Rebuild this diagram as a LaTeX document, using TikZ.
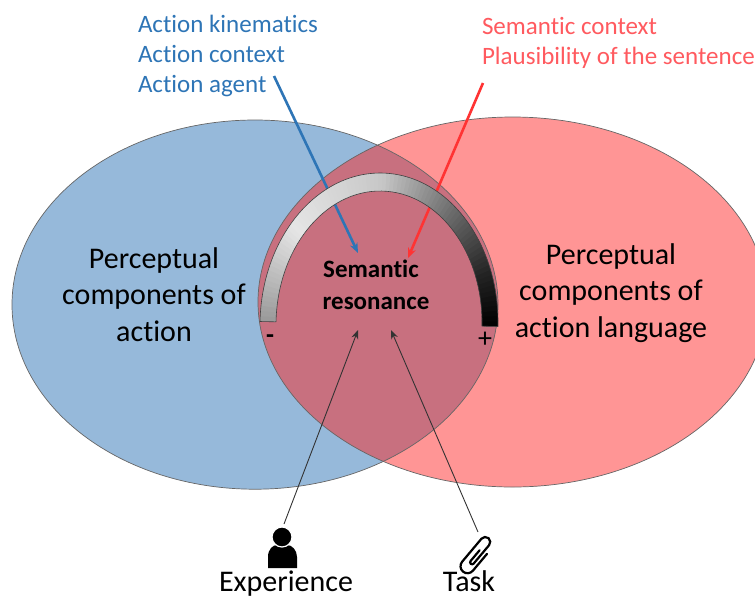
\documentclass[tikz,border=0pt]{standalone}
\usepackage{fontspec}
\setmainfont[Ligatures=NoCommon]{Carlito}
\usetikzlibrary{arrows.meta}
\definecolor{bluefill}{HTML}{96B9DA}
\definecolor{redfill}{HTML}{FF9595}
\definecolor{overlapfill}{HTML}{C8707F}
\definecolor{bluetext}{HTML}{2E75B6}
\definecolor{redtext}{HTML}{FF5A5F}
\definecolor{redarrow}{HTML}{FF3333}
\tikzset{
  x=1pt,y=-1pt,
  every node/.style={inner sep=0pt,outer sep=0pt},
  bigtext/.style={font=\fontsize{30}{30}\selectfont,anchor=base},
  toptext/.style={font=\fontsize{25}{25}\selectfont,anchor=base west},
  boldtext/.style={font=\fontsize{25}{25}\selectfont\bfseries,anchor=base},
  thickarrow/.style={line width=2.6pt,-{Stealth[length=10pt,width=8pt]}},
  thinarrow/.style={line width=0.9pt,draw=black!80,-{Stealth[length=9pt,width=7pt]}},
  venn/.style={draw=black!60,line width=0.7pt}
}
\begin{document}
\begin{tikzpicture}
\useasboundingbox (0,0) rectangle (755,598);
\def\blueE{(255,304.6) ellipse [x radius=243,y radius=184.6]}
\def\redE{(512.6,302) ellipse [x radius=254.6,y radius=185]}
\clip (0,0) rectangle (755,598);
\fill[bluefill] \blueE;
\fill[redfill] \redE;
\begin{scope}
  \clip \blueE;
  \fill[overlapfill] \redE;
\end{scope}
\draw[venn] \blueE;
\draw[venn] \redE;
% labels
\node[toptext,text=bluetext] (kin) at (138,32) {Action kinematics};
\node[toptext,text=bluetext] (ctx) at (138,62) {Action context};
\node[toptext,text=bluetext] (agent) at (138,92) {Action agent};
\node[toptext,text=redtext] (sem) at (482,34) {Semantic context};
\node[toptext,text=redtext] (plaus) at (482,64) {Plausibility of the sentence};
\node[bigtext] (p1) at (154,268) {Perceptual};
\node[bigtext] (p2) at (154,304) {components of};
\node[bigtext] (p3) at (154,341) {action};
\node[bigtext] (q1) at (611,264) {Perceptual};
\node[bigtext] (q2) at (611,300) {components of};
\node[bigtext] (q3) at (611,337) {action language};
\node[boldtext] (res1) at (371,277) {Semantic};
\node[boldtext] (res2) at (376,309) {resonance};
\coordinate (blueStart) at (274,76);
\coordinate (blueTip) at (358,253);
\coordinate (redStart) at (483,83);
\coordinate (redTip) at (408,258);
\coordinate (expStart) at (284,524);
\coordinate (expTip) at (358,330);
\coordinate (taskStart) at (478,532);
\coordinate (taskTip) at (391,330);
\draw[thickarrow,draw=bluetext] (blueStart) -- (blueTip);
\draw[thickarrow,draw=redarrow] (redStart) -- (redTip);
\draw[thinarrow] (expStart) -- (expTip);
\draw[thinarrow] (taskStart) -- (taskTip);
% gauge: a half ring whose grey depends on the angle
\begin{scope}[rotate around={-1.2:(379,324)}]
\foreach \a in {0,2,...,178}{
  \pgfmathsetmacro{\m}{\a+1}
  \pgfmathsetmacro{\b}{\a+2.4}
  \pgfmathsetmacro{\g}{\m>=140 ? 10+(\m-140)*0.75 : (\m>=90 ? 10+(140-\m)*0.24 : (\m>=20 ? 22+(90-\m)*0.93 : 87+(20-\m)*0.65))}
  \fill[black!\g!white] ({379+119*cos(\a)},{324-151*sin(\a)}) -- ({379+119*cos(min(\b,180))},{324-151*sin(min(\b,180))}) -- ({379+103*cos(min(\b,180))},{324-133*sin(min(\b,180))}) -- ({379+103*cos(\a)},{324-133*sin(\a)}) -- cycle;
}
\draw[black!75,line width=0.6pt,line join=round] (260,324) arc [start angle=180,end angle=360,x radius=119,y radius=151] -- (482,324) arc [start angle=360,end angle=180,x radius=103,y radius=133] -- cycle;
\end{scope}
\node[font=\fontsize{26}{26}\selectfont\bfseries,anchor=base] (minus) at (270,343) {-};
\node[font=\fontsize{28}{28}\selectfont,anchor=base] (plus) at (485,347) {+};
% person icon
\fill (268,568) -- (268,557) .. controls (268,549) and (273,545) .. (277,545) -- (287,545) .. controls (292,545) and (297,550) .. (297,557) -- (297,568) -- cycle;
\filldraw[draw=white,line width=1.2pt] (282,537) circle [radius=10];
% paper clip icon
\begin{scope}[shift={(476.5,555.5)},rotate=-40]
\draw[line width=2.2pt,line cap=round] (7,-8) -- (7,14) arc [start angle=0,end angle=180,radius=7] -- (-7,-16) arc [start angle=180,end angle=360,radius=5] -- (3,8) arc [start angle=0,end angle=180,radius=2] -- (-1,-6);
\end{scope}
\node[bigtext] (exp) at (286,591.5) {Experience};
\node[bigtext] (task) at (469,591.5) {Task};
\end{tikzpicture}
\end{document}
